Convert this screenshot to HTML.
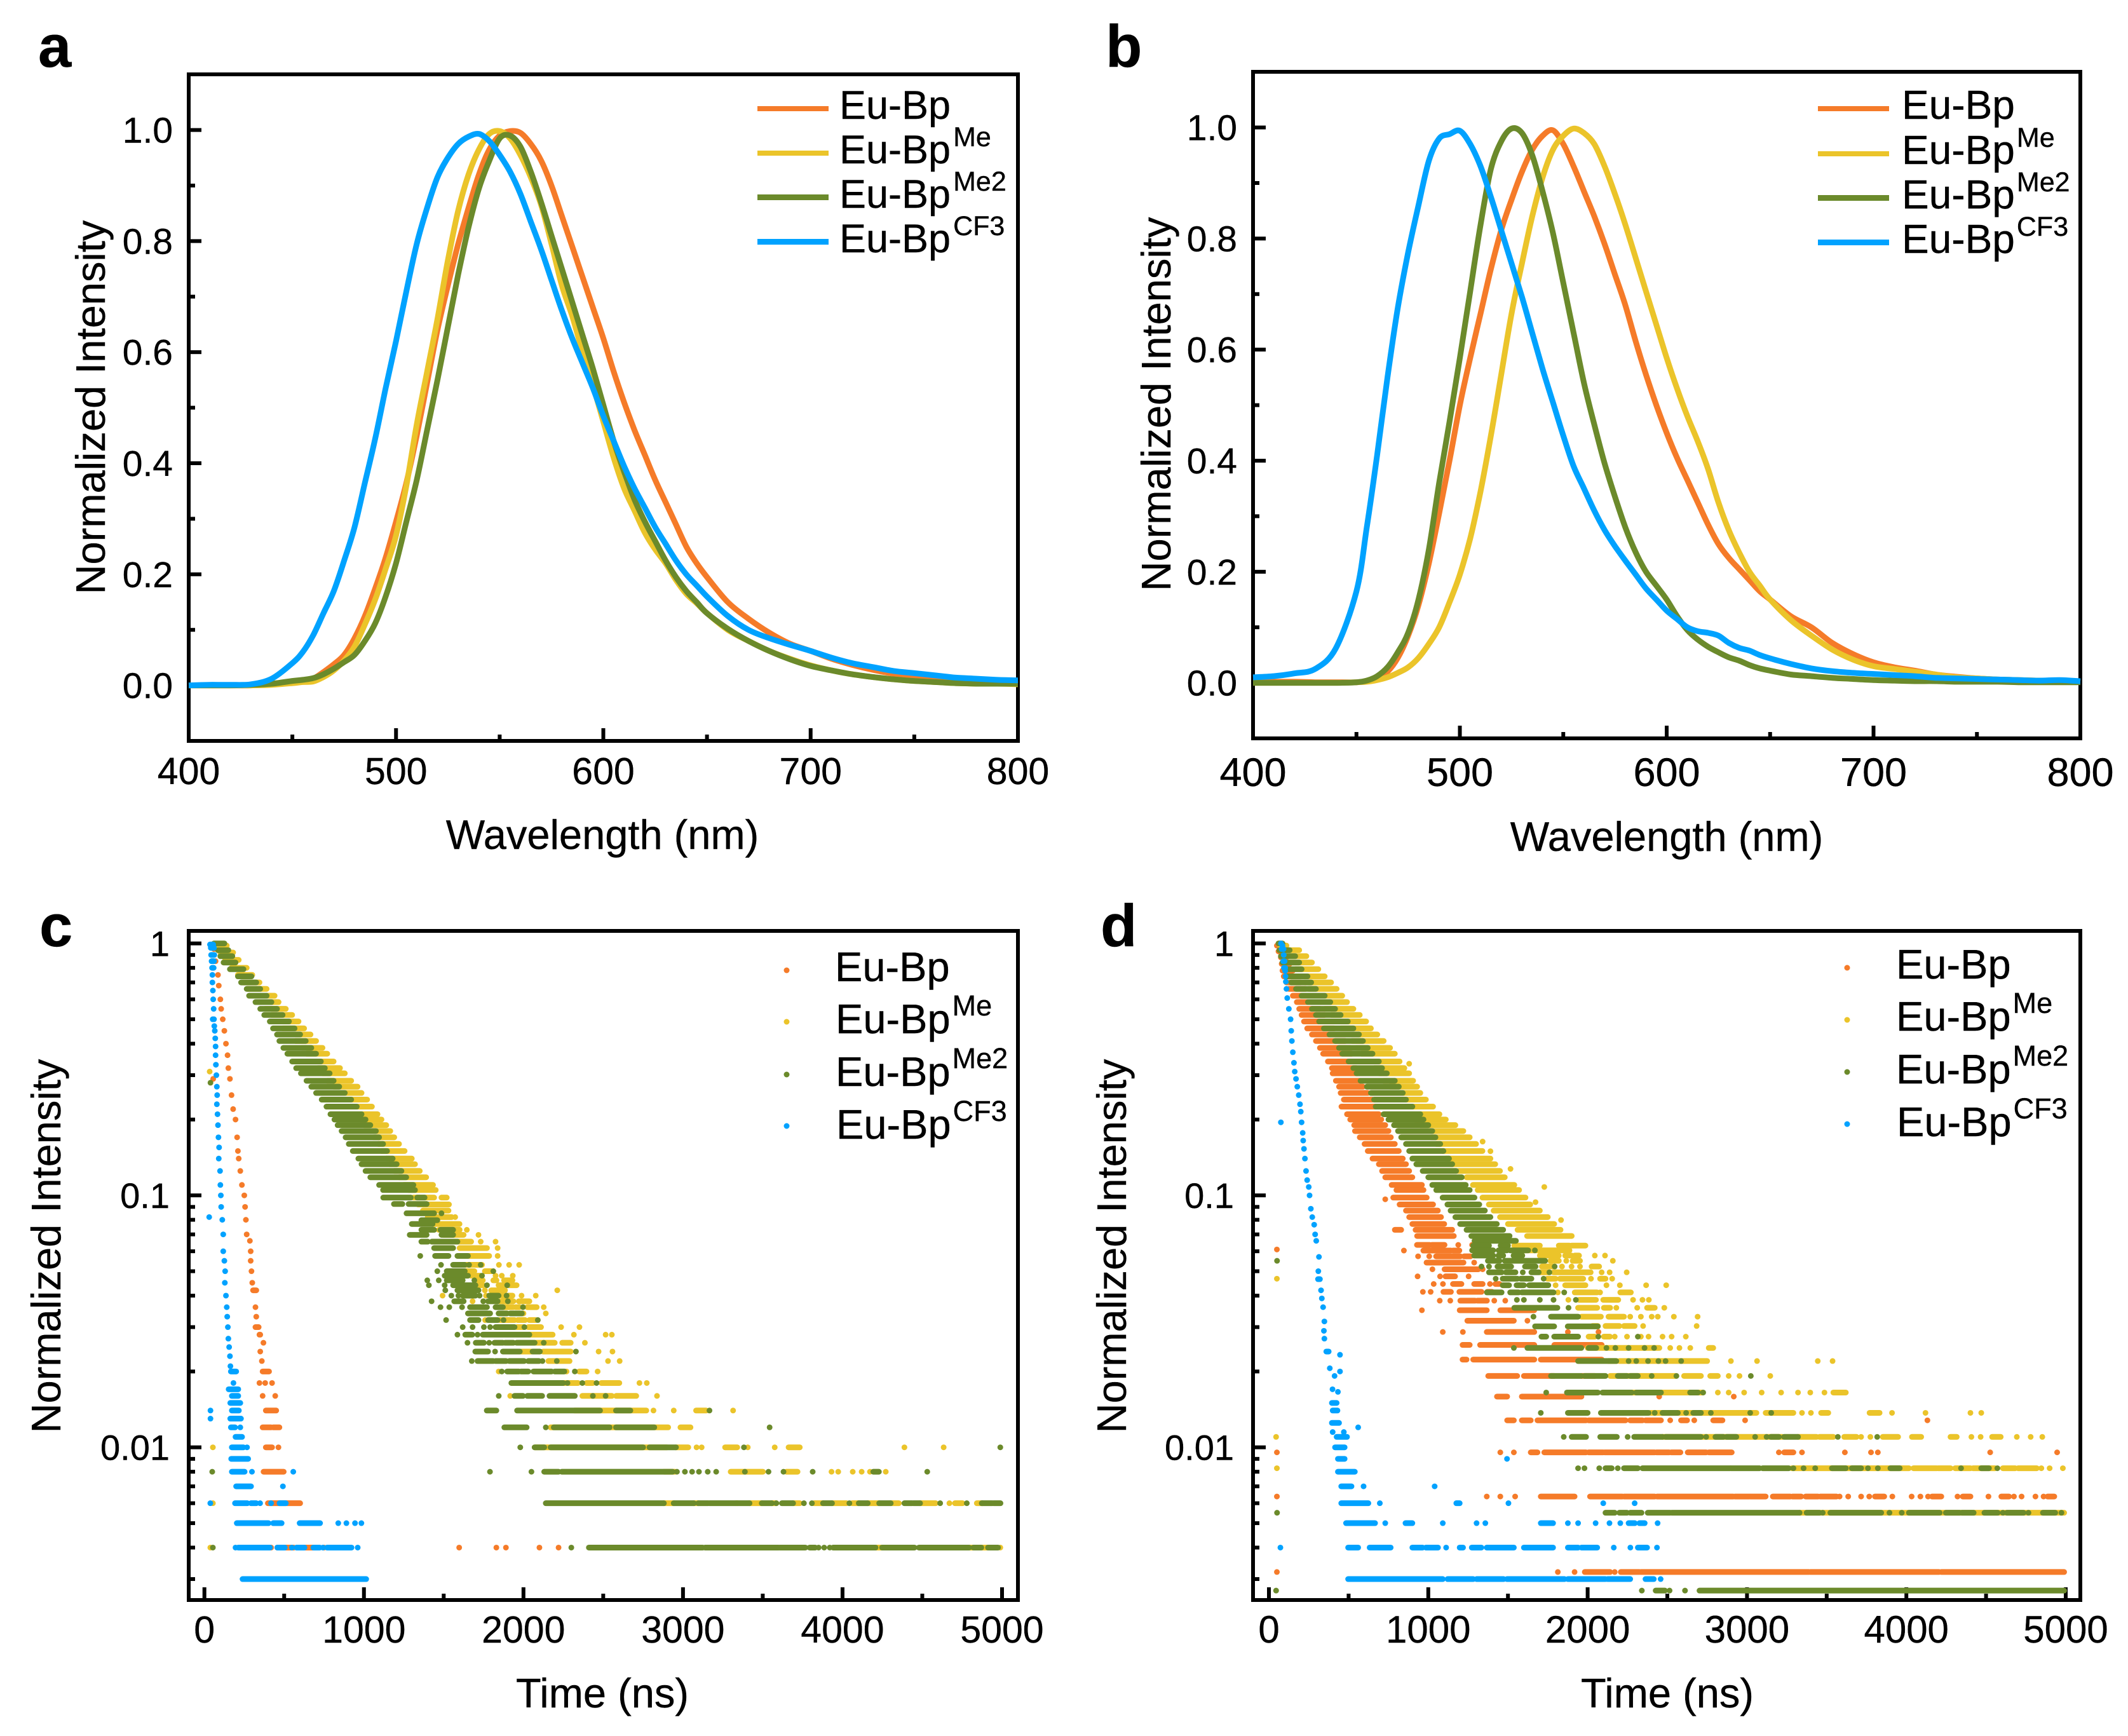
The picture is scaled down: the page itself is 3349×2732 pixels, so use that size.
<!DOCTYPE html>
<html lang="en">
<head>
<meta charset="utf-8">
<title>Eu-Bp emission spectra and decay curves</title>
<style>
html,body{margin:0;padding:0;background:#fff;}
svg{display:block;font-family:"Liberation Sans",Arial,sans-serif;fill:#000;}
text{stroke:#000;stroke-width:.4;}
.pl{font-size:94px;font-weight:bold;}
.at{font-size:65px;}
.lg{font-size:63px;}
.lgb{font-size:64px;}
.lg2{font-size:65px;}
.sp{fill:none;stroke:#000;stroke-width:6;}
</style>
</head>
<body>
<svg xmlns="http://www.w3.org/2000/svg" width="3349" height="2732" viewBox="0 0 3349 2732">
<rect width="3349" height="2732" fill="#fff"/>

<g>
<text class="pl" x="60" y="105">a</text>
<rect class="sp" x="297" y="117" width="1305" height="1049"/>
<g id="axes-a"></g>
<g id="marks-a"></g>
<text class="at" x="948" y="1336" text-anchor="middle">Wavelength (nm)</text>
<text class="at" transform="translate(165 641) rotate(-90)" text-anchor="middle">Normalized Intensity</text>
<g>
<rect x="1192" y="167" width="112" height="8" fill="#F57B29"/>
<rect x="1192" y="237" width="112" height="8" fill="#EBC42A"/>
<rect x="1192" y="306" width="112" height="9" fill="#6B8A2B"/>
<rect x="1192" y="376" width="112" height="9" fill="#00A2FF"/>
<text class="lg" x="1321" y="187">Eu-Bp</text>
<text class="lg" x="1321" y="257">Eu-Bp<tspan dx="4" dy="-27" font-size="43">Me</tspan></text>
<text class="lg" x="1321" y="327">Eu-Bp<tspan dx="4" dy="-27" font-size="43">Me2</tspan></text>
<text class="lg" x="1321" y="397">Eu-Bp<tspan dx="4" dy="-27" font-size="43">CF3</tspan></text>
</g>
</g>

<g>
<text class="pl" x="1740" y="105">b</text>
<rect class="sp" x="1972" y="113" width="1302" height="1049"/>
<g id="axes-b"></g>
<g id="marks-b"></g>
<text class="at" x="2623" y="1339" text-anchor="middle">Wavelength (nm)</text>
<text class="at" transform="translate(1842 636) rotate(-90)" text-anchor="middle">Normalized Intensity</text>
<g>
<rect x="2861" y="167" width="112" height="8" fill="#F57B29"/>
<rect x="2861" y="238" width="112" height="8" fill="#EBC42A"/>
<rect x="2861" y="307" width="112" height="9" fill="#6B8A2B"/>
<rect x="2861" y="377" width="112" height="9" fill="#00A2FF"/>
<text class="lgb" x="2993" y="187">Eu-Bp</text>
<text class="lgb" x="2993" y="258">Eu-Bp<tspan dx="3" dy="-27" font-size="43">Me</tspan></text>
<text class="lgb" x="2993" y="328">Eu-Bp<tspan dx="3" dy="-27" font-size="43">Me2</tspan></text>
<text class="lgb" x="2993" y="398">Eu-Bp<tspan dx="3" dy="-27" font-size="43">CF3</tspan></text>
</g>
</g>

<g>
<text class="pl" x="62" y="1489">c</text>
<rect class="sp" x="297" y="1465" width="1305" height="1053"/>
<g id="axes-c"></g>
<g id="marks-c"></g>
<text class="at" x="948" y="2687" text-anchor="middle">Time (ns)</text>
<text class="at" transform="translate(95 1961) rotate(-90)" text-anchor="middle">Normalized Intensity</text>
<g>
<circle cx="1238" cy="1527" r="4.5" fill="#F57B29"/>
<circle cx="1238" cy="1608" r="4.5" fill="#EBC42A"/>
<circle cx="1238" cy="1691" r="4.5" fill="#6B8A2B"/>
<circle cx="1238" cy="1772" r="4.5" fill="#00A2FF"/>
<text class="lg2" x="1314" y="1544">Eu-Bp</text>
<text class="lg2" x="1315" y="1626">Eu-Bp<tspan dx="3" dy="-28" font-size="45">Me</tspan></text>
<text class="lg2" x="1315" y="1709">Eu-Bp<tspan dx="3" dy="-28" font-size="45">Me2</tspan></text>
<text class="lg2" x="1316" y="1792">Eu-Bp<tspan dx="3" dy="-28" font-size="45">CF3</tspan></text>
</g>
</g>

<g>
<text class="pl" x="1732" y="1489">d</text>
<rect class="sp" x="1972" y="1465" width="1302" height="1053"/>
<g id="axes-d"></g>
<g id="marks-d"></g>
<text class="at" x="2624" y="2687" text-anchor="middle">Time (ns)</text>
<text class="at" transform="translate(1772 1961) rotate(-90)" text-anchor="middle">Normalized Intensity</text>
<g>
<circle cx="2907" cy="1523" r="4.5" fill="#F57B29"/>
<circle cx="2907" cy="1605" r="4.5" fill="#EBC42A"/>
<circle cx="2907" cy="1687" r="4.5" fill="#6B8A2B"/>
<circle cx="2907" cy="1769" r="4.5" fill="#00A2FF"/>
<text class="lg2" x="2984" y="1540">Eu-Bp</text>
<text class="lg2" x="2984" y="1622">Eu-Bp<tspan dx="3" dy="-28" font-size="45">Me</tspan></text>
<text class="lg2" x="2984" y="1705">Eu-Bp<tspan dx="3" dy="-28" font-size="45">Me2</tspan></text>
<text class="lg2" x="2985" y="1788">Eu-Bp<tspan dx="3" dy="-28" font-size="45">CF3</tspan></text>
</g>
</g>
</svg>

<script>
/* ---------- spectra data (wavelength grid shared by every curve) ---------- */
const wavelengths = [400,410,420,430,440,
450,455,460,465,470,475,480,485,490,495,500,505,510,515,520,525,530,535,540,545,550,555,560,565,570,575,580,585,590,595,600,605,610,615,620,625,630,635,640,645,650,
660,670,680,690,700,710,720,730,740,750,760,770,780,790,800];

const aEuBp = [0,0,0,0,.002,
.005,.008,.012,.024,.038,.055,.085,.125,.175,.23,.295,.365,.45,.545,.64,.72,.795,.86,.92,.965,.99,.998,.995,.975,.945,.9,.845,.79,.735,.68,.625,.565,.51,.46,.415,.37,.33,.29,.25,.22,.195,
.15,.12,.095,.075,.062,.048,.037,.028,.021,.016,.012,.009,.007,.005,.004];
const aEuBpMe = [0,0,0,0,.001,
.004,.006,.007,.015,.027,.045,.07,.11,.155,.21,.27,.36,.47,.565,.66,.765,.855,.92,.965,.993,.998,.985,.955,.915,.865,.795,.72,.665,.6,.54,.475,.41,.355,.315,.275,.245,.22,.19,.165,.148,.13,
.1,.08,.062,.048,.036,.027,.02,.015,.011,.008,.006,.004,.003,.003,.002];
const aEuBpMe2 = [0,0,0,.001,.003,
.008,.01,.013,.02,.03,.042,.055,.08,.112,.16,.22,.295,.37,.46,.55,.645,.74,.825,.895,.945,.985,.99,.97,.925,.87,.81,.75,.69,.63,.57,.505,.44,.385,.335,.295,.26,.225,.195,.17,.15,.13,
.102,.08,.062,.047,.035,.027,.02,.015,.011,.008,.006,.004,.003,.003,.003];
const aEuBpCF3 = [0,.001,.001,.002,.012,
.04,.06,.09,.13,.17,.225,.285,.365,.445,.535,.62,.71,.795,.86,.915,.95,.975,.988,.993,.98,.955,.925,.885,.835,.785,.73,.675,.625,.58,.535,.485,.44,.395,.355,.32,.285,.255,.225,.2,.18,.16,
.125,.1,.085,.073,.062,.05,.04,.033,.026,.022,.018,.014,.012,.01,.009];

const bEuBp = [.002,.002,.002,.001,.001,
.001,.003,.008,.02,.045,.085,.14,.215,.305,.4,.5,.585,.665,.745,.815,.87,.92,.96,.985,.995,.97,.93,.885,.84,.79,.735,.68,.615,.555,.5,.45,.405,.365,.325,.285,.25,.225,.205,.185,.165,.15,
.12,.1,.072,.052,.037,.028,.022,.015,.011,.008,.006,.005,.004,.003,.002];
const bEuBpMe = [0,0,0,0,0,
.001,.002,.005,.01,.018,.028,.045,.07,.1,.145,.195,.26,.345,.445,.555,.665,.755,.84,.91,.96,.985,.998,.99,.97,.93,.88,.825,.765,.705,.645,.585,.53,.48,.435,.385,.325,.275,.235,.2,.175,.15,
.113,.085,.06,.042,.03,.025,.02,.015,.01,.008,.006,.005,.004,.003,.002];
const bEuBpMe2 = [0,0,0,0,0,
.001,.004,.012,.028,.055,.09,.15,.24,.36,.47,.585,.705,.825,.925,.975,.998,.99,.95,.885,.81,.72,.63,.54,.465,.395,.335,.28,.235,.2,.175,.15,.12,.095,.078,.065,.055,.046,.04,.032,.026,.022,
.015,.012,.009,.007,.005,.004,.003,.003,.002,.002,.002,.001,.001,.001,.001];
const bEuBpCF3 = [.01,.012,.017,.025,.062,
.165,.28,.41,.55,.675,.775,.86,.94,.98,.988,.994,.97,.93,.875,.815,.755,.695,.63,.565,.505,.445,.39,.35,.31,.275,.246,.22,.195,.17,.15,.13,.115,.1,.093,.09,.085,.072,.063,.058,.05,.044,
.034,.026,.021,.018,.016,.014,.012,.009,.008,.007,.006,.005,.004,.005,.003];

/* ---------- tick values and labels ---------- */
const spectraXMajor = [400,500,600,700,800];
const spectraXLabels = ['400','500','600','700','800'];
const spectraXMinor = [450,550,650,750];
const spectraYMajor = [0,.2,.4,.6,.8,1];
const spectraYLabels = ['0.0','0.2','0.4','0.6','0.8','1.0'];
const spectraYMinor = [.1,.3,.5,.7,.9];
const decayXMajor = [0,1000,2000,3000,4000,5000];
const decayXLabels = ['0','1000','2000','3000','4000','5000'];
const decayXMinor = [500,1500,2500,3500,4500];
const decayYMajor = [1,.1,.01];
const decayYLabels = ['1','0.1','0.01'];
const decayYMinor = [.9,.8,.7,.6,.5,.4,.3,.2,.09,.08,.07,.06,.05,.04,.03,.02,.009,.008,.007,.006,.005,.004,.003];

/* ---------- decay data: each row is [intensity, marks...]; a mark is a time in ns
   or a [start, end] stretch of touching points at that intensity ---------- */
const cEuBpRows = [
[.95,60],[.85,70],[.75,85],[.68,90],[.6,100],[.55,105],[.5,115],[.45,125],[.4,135],[.36,145],[.32,150],[.29,55,160],[.25,170],[.22,180],[.2,195],[.17,205],[.15,210],[.14,215],[.125,225],[.11,235],[.1,250],[.09,255],[.08,260],[.07,265],[.066,285],[.06,290],[.055,290],[.05,295],[.045,300],[.042,[305,325]],[.036,320],[.033,325],[.03,[320,340]],[.028,[345,350]],[.026,370],[.024,350],[.022,360],
[.02,[365,405]],[.018,345,381,424],[.016,365,444],[.014,[385,450]],[.012,[365,418],[431,470]],[.01,[385,424],464],[.008,[371,497]],[.006,[398,600]],[.004,418,[457,560],[600,700],750,1597,1830,1890,2100,2220]
];
const cEuBpMeRows = [
[.98,[60,140]],[.92,[100,180]],[.86,[130,215]],[.8,[170,265]],[.75,[210,300]],[.7,[240,345]],[.66,[270,390]],[.62,[300,440]],[.585,[340,465]],[.55,[380,510]],[.52,[420,550]],[.49,[450,590]],[.46,[490,625]],[.435,[530,665]],[.41,[570,700]],[.385,[610,740]],[.365,[640,770]],[.34,[680,810]],[.32,[710,850]],[.305,[740,880]],[.285,[770,920]],[.27,[810,960]],[.255,[840,985]],[.24,[880,1020]],[.225,[910,1050]],[.21,[950,1085]],[.2,[980,1110]],[.19,[1000,1140]],[.18,[1030,1165]],[.17,[1060,1190]],[.16,[1090,1220]],[.15,[1110,1255]],[.14,[1140,1300]],[.133,[1160,1320]],[.125,[1190,1350]],[.118,[1220,1390]],[.11,[1250,1433]],[.105,[1280,1450]],[.098,[1310,1440],[1486,1519]],[.092,[1340,1533]],[.087,[1370,1530]],[.082,[1400,1550],1572],[.077,[1430,1599]],[.073,[1470,1600],1645],
[.31,33],[.0697,[1500,1625],1718],[.0655,[1540,1672],1732,1825],[.0618,[1600,1771],1838],[.0575,[1650,1785],1838],[.053,[1639,1740],1846,1910,1973],[.05,[1639,1692],[1758,1798]],[.048,1672,[1700,1730],1825,1864,1933],[.046,[1718,1745],[1811,1831],[1878,1931]],[.044,[1712,1745],[1844,1957]],[.042,1758,[1798,1884],2212],[.04,1493,1765,[1864,1931],1988,2077],[.038,1681,[1851,1937],[1971,2037]],[.036,[1871,1937],[1950,1975],[2024,2083],2127],[.034,[1990,2000],2140],[.032,1760,[1851,1944],[1964,2010],[2037,2077]],[.03,[1960,2000],[2030,2110],2236,2351],[.028,[2037,2183],2316,2515,2554],[.026,[2077,2196],[2243,2296],2385],[.024,[1984,2050],[2123,2296],2471,2558],[.022,[2156,2289],2530,2603],[.02,1845,2270,[2349,2395],2465],[.018,[2249,2342],[2395,2435],[2488,2601],2727,2773],[.016,1917,[2369,2554],[2581,2707],2837],
[.014,[2320,2770],2815,2942,[3082,3145],3314],[.012,[2170,2907],[2984,3047]],[.01,53,[2070,2900],[2956,3033],3085,3117,[3264,3340],3406,3575,[3662,3732],4388,4634],[.008,[2880,2950],[3299,3501],[3648,3718],3931,3973,4064,4120,4172,4271],
[.006,53,[2880,2942],[3068,3096],[3334,3340],[3417,3494],[3557,3585],[3690,3732],[3822,3878],[3934,4025],[4060,4102],[4158,4230],[4302,4353],[4486,4584],4670,[4705,4752],[4842,4877]],[.004,37,[4207,4248],[4793,4821],[4870,4912],4989]
];
const cEuBpMe2Rows = [
[1,[60,125]],[.94,[85,150]],[.89,[100,175]],[.84,[120,195]],[.79,[160,245]],[.74,[210,295]],[.7,[230,325]],[.66,[265,350]],[.62,[280,390]],[.585,[320,420]],[.55,[350,455]],[.52,[375,490]],[.49,[410,530]],[.46,[430,565]],[.435,[455,600]],[.41,[470,635]],[.385,[495,670]],[.365,[520,700]],[.34,[550,730]],[.32,[575,755]],[.305,[605,785]],[.285,[640,810]],[.27,[670,845]],[.255,[700,880]],[.24,[735,920]],[.225,[765,955]],[.21,[790,985]],[.2,[815,1010]],[.19,[835,1040]],[.18,[860,1075]],[.17,[885,1095]],[.16,[905,1120]],[.15,[930,1145]],[.14,[965,1180]],[.133,[985,1205]],[.125,[1010,1235]],[.118,[1040,1265]],[.11,[1095,1310]],[.105,[1120,1320]],[.098,[1121,1294],[1334,1380]],[.0924,[1188,1241],[1280,1393]],[.0849,[1267,1440],1486],[.0797,[1360,1460]],[.077,[1300,1430]],[.073,[1360,1440],[1480,1559]],
[.28,38],[.0697,[1287,1393],[1486,1559]],[.0655,[1360,1400],[1426,1586]],[.0618,[1440,1559]],[.0575,1353,[1446,1530],[1586,1652]],[.053,1483,[1559,1632],1659,1732],[.05,1460,[1519,1632],1811],[.048,[1506,1652],1740],[.046,1397,1469,[1519,1619],1692],[.044,1407,1506,[1559,1699],1771,1898],[.042,1510,[1586,1718]],[.04,1548,1592,[1619,1699],1725,[1785,1844],1894],[.038,1424,[1566,1625],1748,[1778,1838],1902],[.036,1480,1535,1615,[1665,1771],[1825,1871],1997],[.034,[1652,1791],[1844,1897],[1917,1990]],[.032,1515,[1665,1718],[1778,1838],1875,2090],[.03,1619,1681,1752,1791,[1825,1944],2006],[.028,1586,[1635,1679],1712,[1745,2037]],[.026,1649,[1701,1752],1785,[1818,1871],[1884,1937],[1957,2070],2127],[.024,[1698,1778],1822,[1871,1977],[2057,2103],2329],[.022,1676,[1712,1811],[1825,1891],[1911,2004],[2030,2097],2119,2209],[.02,1864,[1898,1971],[1984,2030],[2063,2176],[2196,2256],2322],[.018,[1924,2249],2276,2369,2458],[.016,1845,[1944,1997],[2024,2117],[2163,2322],2435,2515],
[.014,[1770,1830],[1960,2480],[2580,2670],3166],[.012,[1880,2020],2140,[2190,2540],[2580,2820],3543],
[.01,1980,[2070,2130],[2170,2750],[2790,2956],3382,4989],[.008,49,1790,2050,[2130,2220],[2240,2935],2962,3012,3057,3100,3155,3208,3388,3536,3630,3813,[4193,4228],4531],[.006,[2140,2880],[2942,3068],[3096,3159],[3166,3334],[3340,3417],[3494,3557],3585,[3620,3690],3758,3808,[3878,3934],4043,[4102,4158],[4230,4302],[4388,4437],[4444,4486],4612,4779,[4873,4940],[4947,4990]],[.004,53,2300,[2410,3124],[3138,3599],[3606,3767],[3794,3829],3850,3885,3920,[3941,4207],[4248,4451],[4479,4793],[4821,4870],[4912,4975]]
];
const cEuBpCF3Rows = [
[.99,[35,55]],[.96,[40,60]],[.9,[42,62]],[.85,[45,60]],[.8,[48,58]],[.75,50],[.7,50],[.65,53],[.6,55],[.55,58],[.5,52,60],[.47,62],[.45,65],[.42,68],[.39,70],[.36,70],[.33,72],[.3,75],[.27,78],[.25,80],[.23,78],[.21,82],[.19,85],[.17,88],[.155,92],[.14,90],[.125,98],[.11,100],[.1,103],[.09,105],[.082,30],[.08,112],[.07,118],[.06,118],[.055,125],[.05,130],[.045,128],[.04,135],[.036,140],[.033,143],[.03,147],[.027,150],[.025,155],[.023,160],[.021,163],
[.02,[166,199]],[.018,182],[.017,[152,212]],[.016,[172,212]],[.015,[162,225]],[.014,38,[172,216]],[.013,38,[162,229]],[.012,[166,192],225],[.011,[195,236]],[.01,[172,245],267],[.009,[168,274]],[.008,[172,252],298,557],[.007,[199,292],492],[.006,37,[192,269],[292,325],349,418,[471,510]],[.005,[203,402],[431,484],[597,725],839,890,944,984],[.004,195,[212,411],[457,504],548,[577,627],[683,723],743,[769,922],961],[.003,[239,1014]]
];

const dEuBpRows = [
[.98,[50,75]],[.93,[60,95]],[.88,[75,110]],[.83,[80,130]],[.78,[85,150]],[.74,[93,178]],[.7,[110,200]],[.66,[125,230]],[.62,[150,270]],[.585,[175,295]],[.55,[190,320]],[.52,[205,350]],[.49,[220,380]],[.46,[240,410]],[.435,[270,440]],[.41,[295,480]],[.385,[320,510]],[.365,[340,520]],[.34,[370,540]],[.32,[395,550]],[.305,[400,555]],[.285,[420,575]],[.27,[440,590]],[.255,[450,620]],[.24,[470,650]],[.225,[455,670]],[.21,[490,690]],[.2,[510,705]],[.19,[535,730]],[.18,[540,750]],[.17,[570,765]],[.16,[600,790]],[.15,[620,815]],[.14,[650,840]],[.133,[690,860]],[.125,[710,880]],[.118,[730,900]],[.11,[770,960]],[.105,[800,970]],[.0965,730],[.098,[780,990]],[.092,[820,1030]],[.087,[860,1060]],[.082,[880,1080]],[.077,[900,1100]],[.073,[790,830],[920,1150]],[.069,[930,1160]],
[.0636,[929,1009],[1022,1102],1188,1275],[.061,50],[.0604,847,[969,1142],[1155,1195]],[.0573,936,1006,[1049,1201],[1225,1265]],[.0541,[989,1221],1288],[.0509,1026,[1102,1314],1341],[.0477,933,1074,[1108,1168],1253],[.0445,1034,1092,[1155,1208],[1288,1341],1387,[1421,1447]],[.0414,966,1015,[1095,1142],[1195,1334],[1370,1400]],[.0382,1072,1138,[1201,1294],[1308,1368],1414,1483],
[.035,960,[1197,1367],[1452,1665]],[.0318,[1245,1537],1622],[.0287,1091,1217,[1367,1665],1876,2068],[.0255,[1215,1260],[1325,1665],[1791,2088]],[.0223,[1215,1240],[1282,1665],[1706,2088]],[.0192,[1376,1558],[1600,1791],[1961,2046]],[.0159,[1431,1495],[1587,1961],2449,2917],
[.0128,[1495,1537],[1587,1643],[1685,1990],[2006,2238],[2267,2344],[2363,2460],2518,[2586,2624],2669,[2788,2846],2988,4132],
[.00955,50,1452,1537,[1643,1685],[1728,1990],[2006,2098],[2106,2421],[2431,2512],[2524,2582],[2628,2744],[2760,2904],3200,[3233,3291],3345,3614,3778,3821,4526,4946],
[.00638,50,1367,1452,1545,[1706,1918],[2015,2218],[2228,2421],[2435,2914],[2924,3015],[3020,3117],[3162,3272],[3285,3340],[3368,3446],[3459,3562],3581,3635,3716,3767,[3803,3861],3912,4033,4088,4136,[4161,4219],4321,[4354,4402],4515,[4596,4644],4675,4723,4810,4861,[4886,4928]],
[.0032,50,1813,1918,[1982,2141],2170,[2208,2325],[2334,3388],[3397,4205],[4219,4990]]
];
const dEuBpMeRows = [
[.98,[70,110]],[.94,[90,190]],[.89,[110,235]],[.84,[130,270]],[.79,[165,310]],[.74,[200,350]],[.7,[225,390]],[.66,[250,425]],[.62,[275,460]],[.585,[310,490]],[.55,[350,530]],[.52,[390,570]],[.49,[420,610]],[.46,[450,640]],[.435,[490,680]],[.41,[520,720]],[.385,[550,760]],[.365,[580,790]],[.34,[625,820]],[.333,880],[.32,[660,850]],[.305,[690,880]],[.285,[720,905]],[.27,[760,930]],[.255,[790,950]],[.24,[830,985]],[.225,[860,1030]],[.21,[890,1070]],[.2,[920,1110]],[.19,[950,1170]],[.18,[980,1220]],[.17,[1020,1260]],[.16,[1050,1300]],[.1635,1341],[.15,[1090,1340]],[.1497,1390],[.14,[1110,1390]],[.133,[1140,1420]],[.1274,1516],[.125,[1190,1450]],[.118,[1240,1480]],[.11,[1280,1540]],[.108,1728],[.105,[1310,1570]],[.098,[1340,1610]],[.094,1673],[.092,[1380,1640]],[.087,[1410,1700]],[.082,[1450,1750]],[.0798,1833],[.077,[1500,1790]],[.073,[1560,1830]],[.069,[1620,1900]],
[.0632,[1540,1700],[1819,1886],[1899,1986]],[.0605,[1600,1886]],[.0577,[1700,1819],[1859,1899],[1919,1946],2045,2109],[.055,[1766,1819],1866,[1906,1952],2158],[.0522,[1713,1780],1839,1899,1952,[2025,2072]],[.0495,[1700,1753],[1786,2019],2088,2138,2245],[.0467,50,[1746,1799],[1826,1972],2021,[2078,2112],2154],[.044,1799,[1859,1986],2118,2202,2367,2493],[.0412,1813,[1919,2059],2078,[2205,2271]],[.0385,1879,[1946,2052],[2098,2192],2285,2344,2384],
[.0358,[1940,2060],[2102,2141],2180,2311,[2373,2421],2481],[.033,[1961,2083],[2131,2228],2267,2334,2402,2440,2541,2690],[.0303,[2030,2064],[2112,2199],[2228,2295],2348,2684],[.0275,[2006,2045],[2102,2140],2170,2247,2334,2382,2470,2527,2616],[.0248,[2000,2450],2518,2576,2644,[2760,2788]],[.022,[2130,2180],[2199,2750],2899,3063,3444,3537],[.0192,[2141,2557],[2605,2711],[2769,2817],2885,2953,3146],[.0165,[2276,2721],2817,2885,2982,3092,3214,3320,3397,3486,[3542,3620]],[.0137,[2392,3059],[3117,3291],3345,3401,[3465,3510],[3769,3832],3910,4120,4402,4470],
[.011,45,[2470,3223],[3320,3436],[3455,3542],[3610,3687],3716,3774,[3852,3948],[4035,4093],[4277,4316],4408,4466,[4538,4592],4693,4780,4853],[.00826,50,[3281,4016],[4045,4190],[4200,4277],[4306,4402],[4418,4557],[4606,4683],[4702,4818],4847,4899,4982],[.0055,[3330,4990]]
];
const dEuBpMe2Rows = [
[1,[60,85]],[.94,[65,130]],[.89,[75,165]],[.84,[85,190]],[.79,[100,205]],[.74,[115,242]],[.7,[140,265]],[.66,[170,295]],[.62,[205,350]],[.585,[245,385]],[.55,[270,415]],[.52,[295,450]],[.49,[315,495]],[.46,[345,530]],[.435,[380,565]],[.41,[415,590]],[.385,[440,620]],[.365,[460,650]],[.34,[500,690]],[.32,[530,710]],[.305,[550,740]],[.285,[575,790]],[.27,[615,815]],[.255,[640,840]],[.24,[660,860]],[.225,[670,900]],[.21,[720,950]],[.2,[750,970]],[.19,[785,1000]],[.18,[810,1025]],[.17,[830,1045]],[.16,[860,1075]],[.15,[880,1095]],[.14,[900,1130]],[.133,[925,1150]],[.125,[965,1175]],[.118,[1000,1210]],[.11,[1025,1235]],[.105,[1050,1260]],[.098,[1090,1290]],[.092,[1120,1320]],[.087,[1140,1355]],[.082,[1170,1390]],[.077,[1200,1430]],[.073,[1240,1470]],[.069,[1270,1510]],[.066,[1290,1550]],
[.0632,[1281,1381],1454,[1475,1500]],[.0605,[1275,1407],[1441,1494],[1514,1627],1669],[.0577,[1288,1407],[1440,1470],[1535,1590]],[.055,51,[1374,1447],[1480,1733]],[.0522,1334,1381,[1434,1520],[1607,1673],1793],[.0495,[1381,1460],[1487,1547],1593,[1647,1693],1760],[.0467,1423,[1467,1560],[1580,1647],1724],[.044,[1467,1507],[1554,1600],[1633,1753]],[.0412,[1368,1460],[1514,1567],[1587,1786],1853],[.0385,1556,1600,1700,1786,1926],
[.0358,[1540,1810],1880],[.033,1660,[1770,1940]],[.0302,[1670,1790],[1875,2064]],[.0275,[1710,1740],[1790,1940],2067,2315],[.0248,1537,[1622,1960],[2006,2054],2118,2174,2257,2357,2417],[.022,[1940,2180],2257,2305,2379,2444,2489,2587],[.0192,[1770,1960],[1980,2112],[2189,2247],[2267,2315],2402,2557,3024],[.0165,1740,[1870,2064],[2093,2276],[2305,2460],[2643,2692],2725],[.0137,1706,[1876,2000],[2083,2382],2421,[2470,2566],2618,[2663,2711],2773,3020,3152],
[.011,1850,[1900,1990],[2079,2183],2251,[2292,2470],[2489,2711],2744,[2802,2852],[2872,2933],3051,3123,[3150,3200],[3233,3320],3570,3817],
[.00826,1940,1980,2073,[2112,2151],2189,[2228,2315],[2344,2895],[2899,3079],[3098,3262],3291,3355,3428,[3533,3620],[3658,3716],3759,3821,[3900,3958],4343,[4470,4518],4571],
[.0055,51,[2112,2170],[2199,2247],[2267,2338],[2377,2518],[2527,3330],[3374,3455],3475,[3523,3842],3894,3971,[4016,4209],[4248,4335],[4348,4422],[4490,4573],4606,[4631,4735],4766,[4857,4934],4973],
[.0027,45,2340,[2427,2485],2514,2611,[2702,4990]]
];
const dEuBpCF3Rows = [
[1,76],[.98,85],[.95,[80,92]],[.9,93],[.85,[90,98]],[.8,[94,102]],[.778,102],[.74,104],[.705,106],[.66,110],[.607,115],[.55,125],[.5,136],[.45,140],[.41,144],[.37,150],[.336,157],[.31,162],[.29,170],[.27,178],[.25,187],[.23,195],[.215,200],[.195,75,205],[.177,212],[.165,215],[.153,220],[.14,226],[.125,233],[.115,240],[.108,250],[.1,255],[.0885,263],[.082,272],[.0765,284],[.07,290],[.066,297],[.057,314],[.05,310],[.0465,[308,320]],[.042,327],[.039,332],[.036,340],[.0316,348],[.029,345],[.027,348],[.024,[360,375]],[.0233,446],[.0206,382],[.02,446],[.0192,412],[.017,399],[.0166,433],[.015,[395,425]],[.014,[400,430]],[.0125,[395,440]],[.012,560],[.0115,400,470],[.011,[425,490]],[.01,[415,475]],
[.009,[433,475],1494],[.008,[433,539]],[.007,[454,518],594,1040],[.006,[454,624],696,[1176,1197],1503,2098,2295],[.005,[484,666],730,[857,900],1091,1303,1358,[1706,1783],1876,1940,2050,2137,2205,[2257,2296],[2325,2358],2439],[.004,72,[497,560],[632,764],[900,964],[985,1061],1112,[1197,1218],[1273,1333],[1367,1537],[1600,1783],[1876,1940],[1961,2060],2164,2268,[2315,2373],2435],[.003,[497,1091],[1121,1282],[1303,1473],[1494,1855],[1876,2112],[2125,2267],[2363,2415],2458]
];

/* ---------- colours ---------- */
const ORANGE = '#F57B29', YELLOW = '#EBC42A', GREEN = '#6B8A2B', BLUE = '#00A2FF';

/* ---------- axis functions ---------- */
function linScale(d0, d1, r0, r1) { return v => r0 + (v - d0) / (d1 - d0) * (r1 - r0); }
function logScale(d0, r0, pxPerDecade) { return v => r0 - (Math.log10(v) - Math.log10(d0)) * pxPerDecade; }

const NS = 'http://www.w3.org/2000/svg';
function svgEl(tag, attrs) {
  const el = document.createElementNS(NS, tag);
  for (const k in attrs) el.setAttribute(k, attrs[k]);
  return el;
}

function drawAxes(id, box, X, Y, ax) {
  const g = document.getElementById(id);
  ax.xMajor.forEach((v, i) => {
    const x = X(v);
    const tick = svgEl('rect', {x: x - 3, y: box.bottom - 20, width: 6, height: 20, fill: '#000'});
    
    
    g.appendChild(tick);
    const label = svgEl('text', {x: x, y: box.xLabelY, 'text-anchor': 'middle', 'font-size': box.xFont});
    label.textContent = ax.xLabels[i];
    
    
    g.appendChild(label);
  });
  ax.xMinor.forEach(v => {
    const tick = svgEl('rect', {x: X(v) - 3, y: box.bottom - 10, width: 6, height: 10, fill: '#000'});
    
    
    g.appendChild(tick);
  });
  ax.yMajor.forEach((v, i) => {
    const y = Y(v);
    const tick = svgEl('rect', {x: box.left, y: y - 3, width: 20, height: 6, fill: '#000'});
    
    
    g.appendChild(tick);
    const label = svgEl('text', {x: box.left - box.yLabelGap, y: y + 20, 'text-anchor': 'end', 'font-size': box.yFont});
    label.textContent = ax.yLabels[i];
    
    
    g.appendChild(label);
  });
  ax.yMinor.forEach(v => {
    const tick = svgEl('rect', {x: box.left, y: Y(v) - 3, width: 10, height: 6, fill: '#000'});
    
    
    g.appendChild(tick);
  });
}

function drawCurve(id, xs, ys, X, Y, colour) {
  const px = xs.map(X), py = ys.map(Y);
  const n = xs.length;
  let d = 'M' + px[0].toFixed(1) + ' ' + py[0].toFixed(1);
  for (let i = 0; i < n - 1; i++) {
    const a = Math.max(i - 1, 0), b = Math.min(i + 2, n - 1);
    const c1x = px[i] + (px[i + 1] - px[a]) / 6, c1y = py[i] + (py[i + 1] - py[a]) / 6;
    const c2x = px[i + 1] - (px[b] - px[i]) / 6, c2y = py[i + 1] - (py[b] - py[i]) / 6;
    d += 'C' + c1x.toFixed(1) + ' ' + c1y.toFixed(1) + ' ' + c2x.toFixed(1) + ' ' + c2y.toFixed(1) + ' ' + px[i + 1].toFixed(1) + ' ' + py[i + 1].toFixed(1);
  }
  const path = svgEl('path', {d: d, fill: 'none', stroke: colour, 'stroke-width': 9, 'stroke-linejoin': 'round', 'stroke-linecap': 'butt'});
  
  
  document.getElementById(id).appendChild(path);
}

function drawRows(id, rows, X, Y, colour) {
  const g = document.getElementById(id);
  rows.forEach(row => {
    const y = Y(row[0]);
    row.slice(1).forEach(m => {
      if (Array.isArray(m)) {
        const run = svgEl('line', {x1: X(m[0]), x2: X(m[1]), y1: y, y2: y, stroke: colour, 'stroke-width': 9, 'stroke-linecap': 'round'});
        
        
        g.appendChild(run);
      } else {
        const dot = svgEl('circle', {cx: X(m), cy: y, r: 4.5, fill: colour});
        
        
        g.appendChild(dot);
      }
    });
  });
}

/* ---------- panels ---------- */
const spectraTicks = {xMajor: spectraXMajor, xLabels: spectraXLabels, xMinor: spectraXMinor, yMajor: spectraYMajor, yLabels: spectraYLabels, yMinor: spectraYMinor};
const decayTicks = {xMajor: decayXMajor, xLabels: decayXLabels, xMinor: decayXMinor, yMajor: decayYMajor, yLabels: decayYLabels, yMinor: decayYMinor};

const aX = linScale(400, 800, 297, 1602), aY = linScale(0, 1, 1078.6, 204.6);
drawAxes('axes-a', {left: 297, bottom: 1166, xLabelY: 1234, xFont: 59, yFont: 57, yLabelGap: 25}, aX, aY, spectraTicks);
drawCurve('marks-a', wavelengths, aEuBp, aX, aY, ORANGE);
drawCurve('marks-a', wavelengths, aEuBpMe, aX, aY, YELLOW);
drawCurve('marks-a', wavelengths, aEuBpMe2, aX, aY, GREEN);
drawCurve('marks-a', wavelengths, aEuBpCF3, aX, aY, BLUE);

const bX = linScale(400, 800, 1972, 3274), bY = linScale(0, 1, 1074.6, 200.6);
drawAxes('axes-b', {left: 1972, bottom: 1162, xLabelY: 1237, xFont: 63, yFont: 57, yLabelGap: 25}, bX, bY, spectraTicks);
drawCurve('marks-b', wavelengths, bEuBp, bX, bY, ORANGE);
drawCurve('marks-b', wavelengths, bEuBpMe, bX, bY, YELLOW);
drawCurve('marks-b', wavelengths, bEuBpMe2, bX, bY, GREEN);
drawCurve('marks-b', wavelengths, bEuBpCF3, bX, bY, BLUE);

const cX = linScale(0, 5000, 321.7, 1577), cY = logScale(1, 1484.7, 396.5);
drawAxes('axes-c', {left: 297, bottom: 2518, xLabelY: 2585, xFont: 59, yFont: 56, yLabelGap: 30}, cX, cY, decayTicks);
drawRows('marks-c', cEuBpRows, cX, cY, ORANGE);
drawRows('marks-c', cEuBpMeRows, cX, cY, YELLOW);
drawRows('marks-c', cEuBpMe2Rows, cX, cY, GREEN);
drawRows('marks-c', cEuBpCF3Rows, cX, cY, BLUE);

const dX = linScale(0, 5000, 1997, 3251), dY = logScale(1, 1484.7, 396.5);
drawAxes('axes-d', {left: 1972, bottom: 2518, xLabelY: 2585, xFont: 60, yFont: 56, yLabelGap: 30}, dX, dY, decayTicks);
drawRows('marks-d', dEuBpRows, dX, dY, ORANGE);
drawRows('marks-d', dEuBpMeRows, dX, dY, YELLOW);
drawRows('marks-d', dEuBpMe2Rows, dX, dY, GREEN);
drawRows('marks-d', dEuBpCF3Rows, dX, dY, BLUE);
</script>
</body>
</html>
